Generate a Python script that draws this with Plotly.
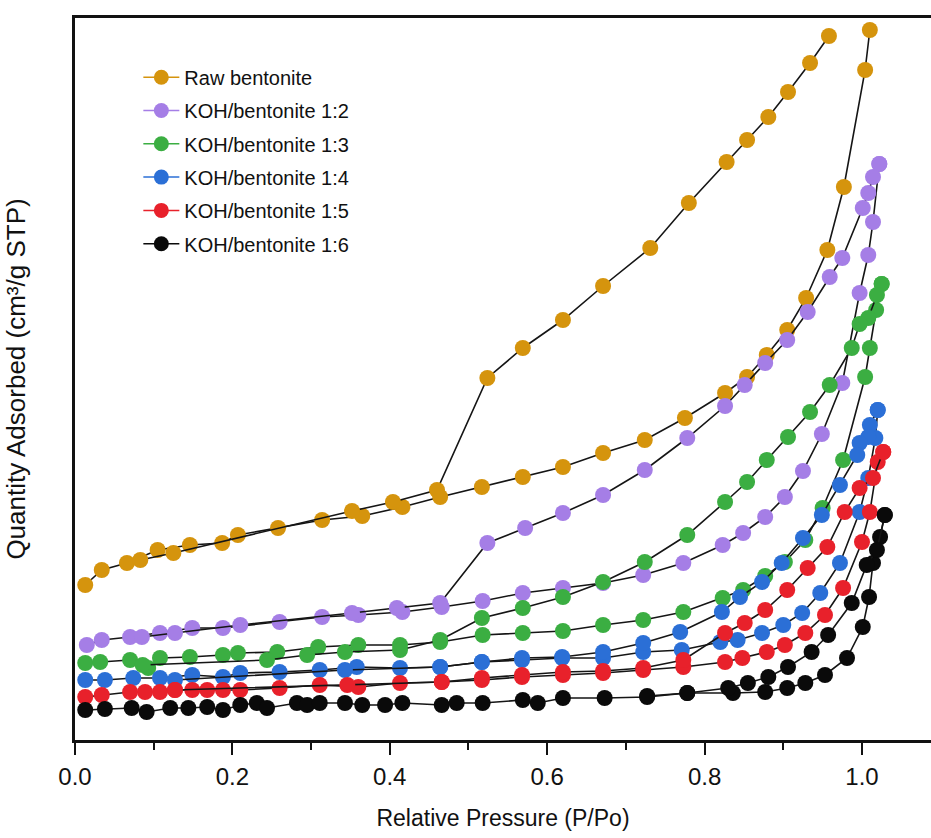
import plotly.graph_objects as go

# ---- data (relative pressure P/Po, quantity adsorbed in arbitrary units) ----
series_names = ["Raw bentonite", "KOH/bentonite 1:2", "KOH/bentonite 1:3",
                "KOH/bentonite 1:4", "KOH/bentonite 1:5", "KOH/bentonite 1:6"]
series_colors = ["#D5940D", "#A57EE6", "#3BAE42", "#2B6FD6", "#E8212B", "#0A0A0A"]

raw_ads_x = [0.013, 0.034, 0.066, 0.105, 0.146, 0.187, 0.207, 0.258, 0.314, 0.365, 0.416, 0.464, 0.517, 0.569,
             0.620, 0.671, 0.724, 0.775, 0.826, 0.854, 0.879, 0.905, 0.929, 0.956, 0.977, 1.004, 1.010]
raw_ads_y = [155, 170, 177, 190, 195, 197, 205, 212, 220, 224, 233, 243, 253, 263,
             273, 287, 300, 322, 347, 363, 385, 410, 442, 490, 553, 670, 710]
raw_des_x = [0.958, 0.934, 0.906, 0.881, 0.854, 0.828, 0.780, 0.731, 0.671, 0.620, 0.569, 0.524,
             0.460, 0.404, 0.352, 0.125, 0.083]
raw_des_y = [704, 677, 648, 623, 600, 578, 537, 492, 454, 420, 392, 362,
             250, 238, 229, 187, 180]

k12_ads_x = [0.015, 0.034, 0.070, 0.108, 0.149, 0.188, 0.260, 0.314, 0.360, 0.416, 0.466, 0.518, 0.569, 0.620,
             0.671, 0.722, 0.773, 0.823, 0.849, 0.877, 0.902, 0.925, 0.949, 0.975, 0.997, 1.008, 1.014, 1.022]
k12_ads_y = [95, 100, 103, 107, 112, 112, 118, 123, 125, 128, 133, 139, 147, 152,
             157, 165, 177, 195, 207, 223, 243, 269, 306, 357, 447, 485, 518, 576]
k12_des_x = [1.022, 1.014, 1.008, 1.001, 0.975, 0.959, 0.931, 0.905, 0.877, 0.851, 0.826, 0.778,
             0.724, 0.671, 0.620, 0.572, 0.524, 0.464, 0.409, 0.352, 0.210, 0.127, 0.085]
k12_des_y = [576, 563, 547, 532, 482, 463, 428, 400, 377, 355, 334, 302,
             270, 245, 227, 212, 197, 137, 132, 127, 115, 107, 103]

k13_ads_x = [0.013, 0.032, 0.070, 0.093, 0.108, 0.146, 0.188, 0.207, 0.257, 0.309, 0.360, 0.413, 0.464, 0.518,
             0.569, 0.620, 0.671, 0.722, 0.773, 0.823, 0.849, 0.877, 0.902, 0.928, 0.950, 0.976, 1.004, 1.010,
             1.018, 1.025]
k13_ads_y = [77, 78, 80, 72, 82, 83, 85, 87, 88, 93, 95, 95, 98, 105,
             107, 109, 115, 120, 128, 142, 150, 164, 178, 200, 232, 280, 363, 392,
             430, 456]
k13_des_x = [1.025, 1.019, 1.008, 0.997, 0.987, 0.959, 0.934, 0.906, 0.879, 0.854, 0.826, 0.778,
             0.724, 0.671, 0.620, 0.569, 0.517, 0.464, 0.413, 0.343, 0.295, 0.244, 0.086]
k13_des_y = [456, 445, 422, 416, 392, 355, 328, 303, 280, 258, 238, 205,
             178, 158, 143, 132, 122, 100, 90, 88, 85, 80, 75]

k14_ads_x = [0.013, 0.038, 0.074, 0.108, 0.149, 0.188, 0.210, 0.260, 0.311, 0.358, 0.413, 0.464, 0.517, 0.568,
             0.619, 0.671, 0.722, 0.771, 0.820, 0.842, 0.873, 0.900, 0.924, 0.947, 0.972, 0.997, 1.008, 1.017,
             1.020]
k14_ads_y = [60, 60, 62, 62, 65, 63, 67, 68, 70, 73, 72, 73, 78, 80,
             82, 82, 88, 90, 98, 100, 107, 115, 127, 147, 177, 228, 262, 302,
             330]
k14_des_x = [1.020, 1.010, 1.008, 0.997, 0.994, 0.972, 0.949, 0.925, 0.898, 0.873, 0.845, 0.822,
             0.769, 0.722, 0.671, 0.619, 0.568, 0.517, 0.464, 0.343, 0.127]
k14_des_y = [330, 315, 303, 297, 285, 255, 225, 202, 177, 158, 143, 128,
             108, 97, 88, 83, 82, 78, 73, 70, 60]

k15_ads_x = [0.013, 0.034, 0.070, 0.089, 0.108, 0.127, 0.149, 0.168, 0.188, 0.210, 0.260, 0.311, 0.360, 0.413,
             0.466, 0.517, 0.568, 0.620, 0.671, 0.722, 0.773, 0.826, 0.848, 0.879, 0.902, 0.928, 0.953, 0.976,
             1.000, 1.010, 1.020, 1.027]
k15_ads_y = [43, 45, 48, 48, 48, 50, 50, 50, 50, 50, 52, 55, 53, 57,
             58, 60, 63, 65, 67, 70, 73, 78, 82, 88, 95, 107, 125, 152,
             198, 228, 278, 288]
k15_des_x = [1.027, 1.014, 0.997, 0.978, 0.956, 0.931, 0.905, 0.877, 0.851, 0.826, 0.773, 0.722,
             0.671, 0.620, 0.568, 0.517, 0.466, 0.346, 0.127]
k15_des_y = [288, 262, 252, 228, 193, 172, 150, 130, 117, 107, 80, 72,
             69, 68, 65, 62, 58, 55, 50]

k16_ads_x = [0.013, 0.038, 0.072, 0.091, 0.121, 0.144, 0.168, 0.188, 0.210, 0.231, 0.244, 0.282, 0.295, 0.311,
             0.343, 0.365, 0.394, 0.416, 0.466, 0.485, 0.518, 0.569, 0.588, 0.620, 0.673, 0.727, 0.778, 0.836,
             0.877, 0.905, 0.928, 0.953, 0.981, 1.001, 1.009, 1.014, 1.023, 1.029]
k16_ads_y = [30, 31, 32, 28, 32, 32, 33, 30, 35, 37, 32, 37, 35, 37,
             37, 35, 35, 37, 35, 37, 37, 40, 37, 42, 42, 43, 47, 47,
             48, 52, 57, 65, 82, 113, 143, 177, 203, 225]
k16_des_x = [1.029, 1.019, 1.006, 0.987, 0.957, 0.936, 0.906, 0.881, 0.855, 0.830, 0.778, 0.727]
k16_des_y = [225, 190, 175, 137, 105, 88, 73, 63, 57, 52, 47, 44]

x_tick_vals = [0.0, 0.2, 0.4, 0.6, 0.8, 1.0]
x_tick_text = ["0.0", "0.2", "0.4", "0.6", "0.8", "1.0"]

branches = [
    (raw_ads_x, raw_ads_y, raw_des_x, raw_des_y),
    (k12_ads_x, k12_ads_y, k12_des_x, k12_des_y),
    (k13_ads_x, k13_ads_y, k13_des_x, k13_des_y),
    (k14_ads_x, k14_ads_y, k14_des_x, k14_des_y),
    (k15_ads_x, k15_ads_y, k15_des_x, k15_des_y),
    (k16_ads_x, k16_ads_y, k16_des_x, k16_des_y),
]

FONT = "Liberation Sans, Arial, sans-serif"
fig = go.Figure()

for i, (name, color, (ax, ay, dx, dy)) in enumerate(zip(series_names, series_colors, branches)):
    assert len(ax) == len(ay) and len(dx) == len(dy), name
    for bx, by in ((ax, ay), (dx, dy)):
        fig.add_trace(go.Scatter(
            x=bx, y=by, mode="lines+markers", showlegend=False,
            legendgroup=name,
            line=dict(color="#151515", width=1.6),
            marker=dict(color=color, size=16, line=dict(width=0)),
            hoverinfo="x+y", name=name,
        ))

# legend entries (coloured line + marker swatch)
for name, color in zip(series_names, series_colors):
    fig.add_trace(go.Scatter(
        x=[None], y=[None], mode="lines+markers", name=name, legendgroup=name,
        line=dict(color=color, width=1.5),
        marker=dict(color=color, size=15, line=dict(width=0)),
    ))

fig.update_layout(
    width=931, height=838,
    margin=dict(l=75, r=0, t=18, b=98),
    paper_bgcolor="white", plot_bgcolor="white",
    font=dict(family=FONT, color="#111111"),
    showlegend=True,
    legend=dict(
        x=0.074, y=0.945, xanchor="left", yanchor="top",
        bgcolor="rgba(0,0,0,0)", borderwidth=0,
        font=dict(size=20, family=FONT, color="#111111"),
        traceorder="grouped", tracegroupgap=4.3,
        itemwidth=36,
    ),
    xaxis=dict(
        range=[0, 1.0877], showgrid=False, zeroline=False,
        showline=True, linecolor="#111111", linewidth=2.5, mirror=True,
        ticks="outside", ticklen=12, tickwidth=2, tickcolor="#111111",
        tickvals=x_tick_vals, ticktext=x_tick_text,
        tickfont=dict(size=24, family=FONT, color="#111111"),
        ticklabelstandoff=1,
        minor=dict(ticks="outside", ticklen=7, tickwidth=1.5, tickcolor="#111111", dtick=0.1, showgrid=False),
        title=dict(text="Relative Pressure (P/Po)", font=dict(size=23, family=FONT, color="#111111"), standoff=22),
        automargin=False,
    ),
    yaxis=dict(
        range=[0, 722], showgrid=False, zeroline=False,
        showline=True, linecolor="#111111", linewidth=2.5, mirror=False,
        ticks="", showticklabels=False,
        title=dict(text="Quantity Adsorbed (cm³/g STP)", font=dict(size=26, family=FONT, color="#111111"), standoff=40),
        automargin=False,
    ),
)

fig.write_html("out.html")
